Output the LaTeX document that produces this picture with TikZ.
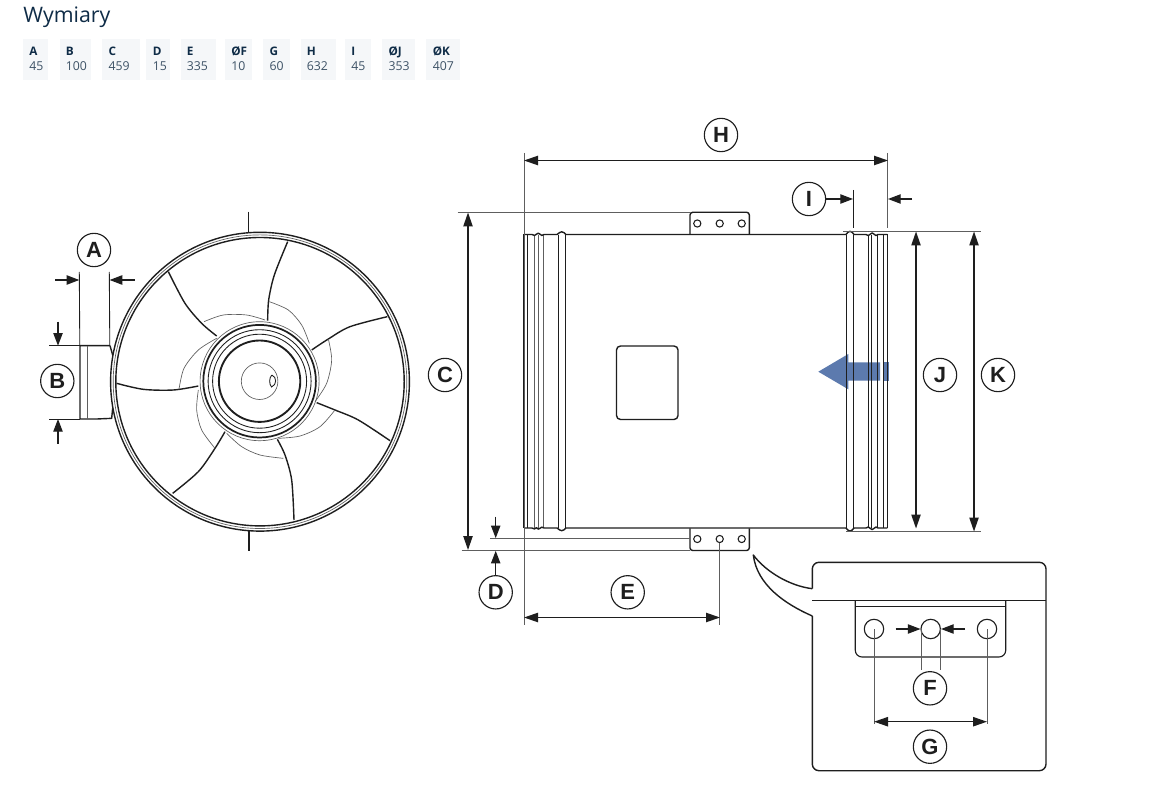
\documentclass[tikz,border=0pt]{standalone}
\usepackage{fontspec}
\setmainfont{Liberation Sans}
\newfontfamily\tablefont{Open Sans}
\usetikzlibrary{arrows.meta}
\definecolor{navy}{HTML}{0F2C47}
\definecolor{slateink}{HTML}{3D5266}
\definecolor{cellbg}{HTML}{F5F7F9}
\definecolor{flowblue}{HTML}{5C7AAE}
\definecolor{ink}{HTML}{1E1E1E}
\definecolor{thingrey}{HTML}{5E5E5E}
\tikzset{
  heavy/.style={draw=ink,line width=1.05pt,line join=round},
  mid/.style={draw=ink,line width=0.65pt},
  faint/.style={draw=thingrey,line width=0.5pt},
  extline/.style={draw=thingrey,line width=0.7pt},
  tipped/.style={draw=ink,line width=0.9pt,-{Triangle[length=9.5pt,width=7pt]}},
  twotipped/.style={draw=ink,line width=0.95pt,{Triangle[length=10.5pt,width=7pt]}-{Triangle[length=10.5pt,width=7pt]}},
  lab/.style={circle,draw=ink,line width=0.85pt,minimum size=25pt,inner sep=0pt,fill=white,font=\bfseries\fontsize{16.5pt}{16.5pt}\selectfont,text=ink},
  cell/.style={fill=cellbg,draw=none},
  head/.style={anchor=base west,inner sep=0pt,text=navy,font=\tablefont\bfseries\fontsize{8.8pt}{9pt}\selectfont},
  val/.style={anchor=base west,inner sep=0pt,text=slateink,font=\tablefont\fontsize{9.2pt}{10pt}\selectfont},
}
\newcommand{\dimcell}[6]{%
  \fill[cell] (#1,39.5) rectangle (#2,80);
  \node[head] (h#6) at (#3,56) {#4};
  \node[val] (v#6) at (#3,71) {#5};
}
\begin{document}
\begin{tikzpicture}[x=0.75pt,y=-0.75pt]
\useasboundingbox (0,0) rectangle (1155,791);
\fill[white] (0,0) rectangle (1155,791);

% heading and table
\node[anchor=base west,inner sep=0pt,text=navy,font=\tablefont\fontsize{16pt}{17pt}\selectfont] (title) at (23,22.5) {Wymiary};
\dimcell{23.3}{48.3}{29}{A}{45}{a}
\dimcell{60}{91}{65.5}{B}{100}{b}
\dimcell{101.7}{140}{108.3}{C}{459}{c}
\dimcell{145.7}{170}{152.5}{D}{15}{d}
\dimcell{181}{216}{186.5}{E}{335}{e}
\dimcell{225}{252.3}{231}{ØF}{10}{f}
\dimcell{263.3}{290}{269.3}{G}{60}{g}
\dimcell{301}{336}{306.5}{H}{632}{h}
\dimcell{345}{370.7}{351}{I}{45}{i}
\dimcell{382}{415}{388.3}{ØJ}{353}{j}
\dimcell{426}{460}{432.5}{ØK}{407}{k}

% ---------- fan, front view
\draw[heavy,line width=1.4pt] (248.5,211.7) -- (248.5,232);
\draw[heavy,line width=1.4pt] (249.3,531) -- (249.3,550.7);
\draw[heavy] (260,381.7) circle [radius=149.4];
\draw[faint] (260,381.7) circle [radius=146.8];
\draw[heavy] (260,381.7) circle [radius=144.2];
% hub
\draw[faint] (259.6,381.2) circle [radius=59.5];
\draw[draw=ink,line width=1.3pt] (259.6,381.2) circle [radius=56.3];
\draw[mid] (259.6,381.2) circle [radius=51.5];
\draw[mid] (259.6,381.2) circle [radius=47];
\draw[draw=ink,line width=1.4pt] (259.6,381.2) circle [radius=40.7];
\draw[faint] (259.6,381.2) circle [radius=18.3];
\draw[mid] (271.8,375) .. controls (269,378) and (269,384) .. (271.5,387) .. controls (277,385) and (277,377) .. (271.8,375);
\begin{scope}[shift={(30,200)},x=0.25pt,y=-0.25pt]
  % blades
  \draw[heavy] plot[smooth] coordinates {(773,125) (733,225) (716,300) (713,362)};
  \draw[heavy] plot[smooth] coordinates {(1072,350) (960,380) (895,417) (845,450)};
  \draw[heavy] plot[smooth] coordinates {(1080,722) (985,660) (915,630) (860,608)};
  \draw[heavy] plot[smooth] coordinates {(792,960) (785,840) (765,765) (742,718)};
  \draw[heavy] plot[smooth] coordinates {(428,880) (505,815) (555,745) (585,695)};
  \draw[heavy] plot[smooth] coordinates {(260,550) (340,568) (430,570) (505,558)};
  \draw[heavy] plot[smooth] coordinates {(415,215) (465,310) (515,370) (560,408)};
  % thin blade root arcs
  \draw[faint] plot[smooth] coordinates {(718,305) (775,330) (815,375) (838,430)};
  \draw[faint] plot[smooth] coordinates {(895,417) (905,480) (890,550) (855,605)};
  \draw[faint] plot[smooth] coordinates {(915,630) (870,680) (810,708) (745,715)};
  \draw[faint] plot[smooth] coordinates {(760,775) (690,765) (635,740) (590,700)};
  \draw[faint] plot[smooth] coordinates {(555,745) (515,690) (500,630) (505,570)};
  \draw[faint] plot[smooth] coordinates {(447,568) (462,505) (505,450) (560,415)};
  \draw[faint] plot[smooth] coordinates {(522,365) (580,345) (650,345) (705,360)};
  % mounting foot
  \draw[heavy] (240,437) -- (150,437) -- (150,657) -- (200,657) -- (245,655) -- (248,625);
  \draw[heavy] (240,437) -- (248,465);
  \draw[faint] (172,437) -- (172,657);
\end{scope}

% labels A, B and their dimensions
\node[lab] (A) at (94,250) {A};
\node[lab] (B) at (57.3,381) {B};
\coordinate (aL) at (79.3,280); \coordinate (aLo) at (55,280);
\coordinate (aR) at (109.6,280); \coordinate (aRo) at (134.5,280);
\coordinate (aLt) at (79.3,272); \coordinate (aLb) at (79.8,345.7);
\coordinate (aRt) at (109.3,272); \coordinate (aRb) at (109.8,345.7);
\draw[mid] (aLt) -- (aLb);
\draw[mid] (aRt) -- (aRb);
\draw[tipped] (aLo) -- (aL);
\draw[tipped] (aRo) -- (aR);
\coordinate (bT) at (58,345.7); \coordinate (bTo) at (58,321.5);
\coordinate (bB) at (58,419); \coordinate (bBo) at (58,443.5);
\coordinate (bTs) at (49,345.7); \coordinate (bTe) at (80,345.7);
\coordinate (bBs) at (49,419); \coordinate (bBe) at (80,419);
\draw[mid] (bTs) -- (bTe);
\draw[mid] (bBs) -- (bBe);
\draw[tipped] (bTo) -- (bT);
\draw[tipped] (bBo) -- (bB);

% ---------- casing, side view
% flow arrow
\fill[flowblue] (818.3,371.7) -- (848.3,354) -- (848.3,362.3) -- (880,362.3) -- (880,380.7) -- (848.3,380.7) -- (848.3,389.3) -- cycle;
\fill[flowblue] (882.5,362.3) rectangle (889,380.7);
% ribs
\foreach \xx in {534,538,543.3}
  \draw[extline] (\xx,235) -- (\xx,528);
\foreach \xx in {527.7,558,565.3,846.7,853.3,868.7,871.7,877,883.3,887.3}
  \draw[mid] (\xx,235) -- (\xx,528);
\draw[heavy] (524,234.5) -- (524,528);
\draw[heavy] (524,234.5) -- (532,234.5) .. controls (534,235.8) and (535,235.8) .. (536.5,234.2) .. controls (537.5,232.8) and (539,232.8) .. (540,234.2) .. controls (541,235.8) and (542.5,235.8) .. (544,234.5) -- (557,234.5) .. controls (559,233.2) and (560,231.8) .. (561.7,231.8) .. controls (563.4,231.8) and (564.5,233.2) .. (566,234.5) -- (846,234.5) .. controls (847.5,233) and (848,231.3) .. (850,231.3) .. controls (852,231.3) and (852.5,233) .. (854,234.5) -- (866,234.5) .. controls (867.5,236) and (869,236) .. (870.5,234) .. controls (871.5,232.6) and (872.8,232.6) .. (873.8,234) .. controls (875,236) and (877,236) .. (878,234.5) -- (887.3,234.5);
\draw[heavy] (524,528) -- (532,528) .. controls (534,529.3) and (535,529.3) .. (536.5,527.7) .. controls (537.5,529.5) and (539,529.5) .. (540,528.3) .. controls (541,526.8) and (542.5,526.8) .. (544,528) -- (557,528) .. controls (559,529.3) and (560,530.7) .. (561.7,530.7) .. controls (563.4,530.7) and (564.5,529.3) .. (566,528) -- (846,528) .. controls (847.5,529.5) and (848,531) .. (850,531) .. controls (852,531) and (852.5,529.5) .. (854,528) -- (866,528) .. controls (867.5,526.6) and (869,526.6) .. (870.5,528.5) .. controls (871.5,530) and (872.8,530) .. (873.8,528.5) .. controls (875,526.6) and (877,526.6) .. (878,528) -- (887.3,528);
\draw[heavy] (887.3,234.5) -- (887.3,528);
% service window
\draw[heavy,rounded corners=3pt] (616.5,346) rectangle (678,419.5);
% top bracket
\draw[heavy,rounded corners=2pt] (690,234.5) -- (690,212.3) -- (749.3,212.3) -- (749.3,234.5);
\foreach \hx in {697.3,719.7,741.7}
  \draw[draw=ink,line width=0.8pt] (\hx,223.5) circle [radius=3.6];
% bottom bracket
\draw[heavy,rounded corners=2pt] (690,528.3) -- (690,550.5) -- (749.3,550.5) -- (749.3,528.3);
\foreach \hx in {697.3,719.7,741.7}
  \draw[draw=ink,line width=0.8pt] (\hx,539) circle [radius=3.6];

% labels of the side view
\node[lab] (H) at (721,135) {H};
\node[lab] (I) at (809,199) {I};
\node[lab] (C) at (445,375) {C};
\node[lab] (J) at (940,375) {J};
\node[lab] (K) at (998,375) {K};
\node[lab] (D) at (495.7,592.3) {D};
\node[lab] (E) at (627.7,592.3) {E};

% extension lines
\coordinate (leftTop) at (524,153); \coordinate (leftBot) at (524,625);
\coordinate (rightTop) at (887.5,153); \coordinate (rightBot) at (887.5,228);
\coordinate (iExtT) at (853.3,190); \coordinate (iExtB) at (853.3,228);
\coordinate (cTopS) at (457.5,212.3); \coordinate (cTopE) at (690,212.3);
\coordinate (cBotS) at (461.7,550.4); \coordinate (cBotE) at (690,550.4);
\coordinate (dUpS) at (490,538.4); \coordinate (dUpE) at (690,538.4);
\coordinate (kTopS) at (843,231); \coordinate (kTopE) at (980.7,231);
\coordinate (kBotS) at (846,531.5); \coordinate (kBotE) at (980.7,531.5);
\coordinate (eExtT) at (719.7,543); \coordinate (eExtB) at (719.7,625);
\draw[extline] (leftTop) -- (leftBot);
\draw[extline] (rightTop) -- (rightBot);
\draw[mid] (iExtT) -- (iExtB);
\draw[extline] (cTopS) -- (cTopE);
\draw[extline] (cBotS) -- (cBotE);
\draw[extline] (dUpS) -- (dUpE);
\draw[extline] (kTopS) -- (kTopE);
\draw[extline] (kBotS) -- (kBotE);
\draw[extline] (eExtT) -- (eExtB);

% dimension arrows
\coordinate (hL) at (524,160.5); \coordinate (hR) at (888,160.5);
\draw[twotipped] (hL) -- (hR);
\coordinate (iL) at (853,199); \coordinate (iR) at (888,199); \coordinate (iRo) at (912,199);
\draw[tipped] (I) -- (iL);
\draw[tipped] (iRo) -- (iR);
\coordinate (cT) at (468,212.5); \coordinate (cB) at (468,550);
\draw[twotipped] (cT) -- (cB);
\coordinate (jT) at (916,231.5); \coordinate (jB) at (916,528.5);
\draw[twotipped] (jT) -- (jB);
\coordinate (kT) at (974,231.5); \coordinate (kB) at (974,531.5);
\draw[twotipped] (kT) -- (kB);
\coordinate (dT) at (495.7,538.2); \coordinate (dTo) at (495.7,516.7);
\coordinate (dB) at (495.7,550.8);
\draw[tipped] (dTo) -- (dT);
\draw[tipped] (D) -- (dB);
\coordinate (eL) at (524,617.5); \coordinate (eR) at (720,617.5);
\draw[twotipped] (eL) -- (eR);

% ---------- detail inset
\draw[heavy,rounded corners=5pt] (812.3,588.7) -- (812.3,562.3) -- (1046,562.3) -- (1046,770.7) -- (812.3,770.7) -- (812.3,616);
\draw[heavy] (812.3,588.7) .. controls (790,586) and (766,572) .. (753.3,555) .. controls (757,585) and (785,604) .. (812.3,616);
\draw[heavy] (812.3,600.3) -- (1046,600.3);
\draw[heavy,line width=.85pt,rounded corners=5pt] (855.3,600.3) -- (855.3,657) -- (1005.7,657) -- (1005.7,600.3);
\draw[mid] (855.3,606.5) -- (1005.7,606.5);
\draw[heavy,line width=.85pt] (874,629) circle [radius=9.7];
\draw[heavy,line width=.85pt] (930.7,629) circle [radius=9.7];
\draw[heavy,line width=.85pt] (987,629) circle [radius=9.7];
\node[lab] (F) at (930,688.3) {F};
\node[lab] (G) at (930,746.7) {G};
\coordinate (fLo) at (895.7,629); \coordinate (fL) at (920.5,629);
\coordinate (fRo) at (965,629); \coordinate (fR) at (941,629);
\draw[tipped] (fLo) -- (fL);
\draw[tipped] (fRo) -- (fR);
\coordinate (f1T) at (921,629); \coordinate (f1B) at (921,670);
\coordinate (f2T) at (940,629); \coordinate (f2B) at (940,670);
\draw[extline] (f1T) -- (f1B);
\draw[extline] (f2T) -- (f2B);
\coordinate (g1T) at (874,629); \coordinate (g1B) at (874,724);
\coordinate (g2T) at (987,629); \coordinate (g2B) at (987,724);
\draw[extline] (g1T) -- (g1B);
\draw[extline] (g2T) -- (g2B);
\coordinate (gL) at (874,721.7); \coordinate (gR) at (987,721.7);
\draw[twotipped] (gL) -- (gR);
\end{tikzpicture}
\end{document}
